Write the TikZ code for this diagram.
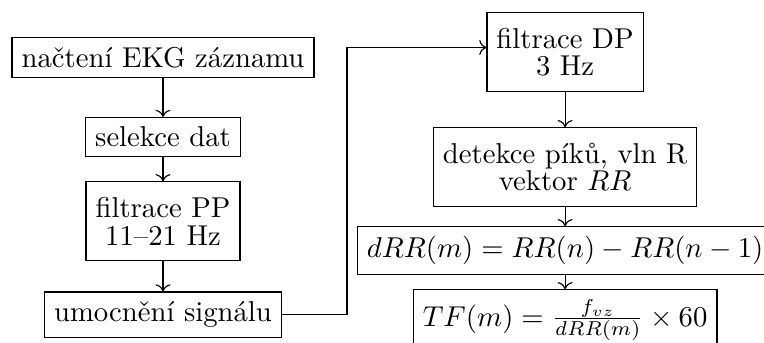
\documentclass[tikz,border=0pt]{standalone}
\usepackage{fontspec}
\usepackage{amsmath}
\usepackage{tikz}
\usetikzlibrary{positioning, arrows.meta}
\tikzset{
    process/.style={rectangle, draw=black, align=center},
    process2/.style={process, minimum height=27.5pt},
    arrow/.style={->}
}

\begin{document}
\begin{tikzpicture}
        \clip (0,0) rectangle (266.2pt,-119.5pt);
        % levy sloupec
        \node[process, anchor=north] (nacteni) at (56.8pt,-12.9pt) {načtení EKG záznamu};
        \node[process, below=13.5pt of nacteni] (selekce) {selekce dat};
        \node[process2, below=8.3pt of selekce] (filtrPP) {filtrace PP\\[-2.5pt] 11--21 Hz};
        \node[process, below=10.5pt of filtrPP] (umocneni) {umocnění signálu};

        % pravy sloupec
        \node[process2, anchor=north] (filtrDP) at (196.9pt,-4.2pt) {filtrace DP\\[-2.5pt] 3 Hz};
        \node[process2, below=12.2pt of filtrDP] (detekce) {detekce píků, vln R\\[-2.5pt] vektor $RR$};
        \node[process, below=6.6pt of detekce] (dRR) {$dRR(m) = RR(n) - RR(n-1)$};
        \node[process, below=4.9pt of dRR] (TF) {$TF(m) = \frac{f_{vz}}{dRR(m)} \times 60$};

        \coordinate (ohyb) at (120.9pt,0);

        \draw[arrow] (nacteni) -- (selekce);
        \draw[arrow] (selekce) -- (filtrPP);
        \draw[arrow] (filtrPP) -- (umocneni);
        \draw[arrow] (umocneni.east) -- (umocneni.east -| ohyb) |- ([yshift=1.6pt]filtrDP.west);
        \draw[arrow] (filtrDP) -- (detekce);
        \draw[arrow] (detekce) -- (dRR);
        \draw[arrow] (dRR) -- (TF);
    \end{tikzpicture}
\end{document}
